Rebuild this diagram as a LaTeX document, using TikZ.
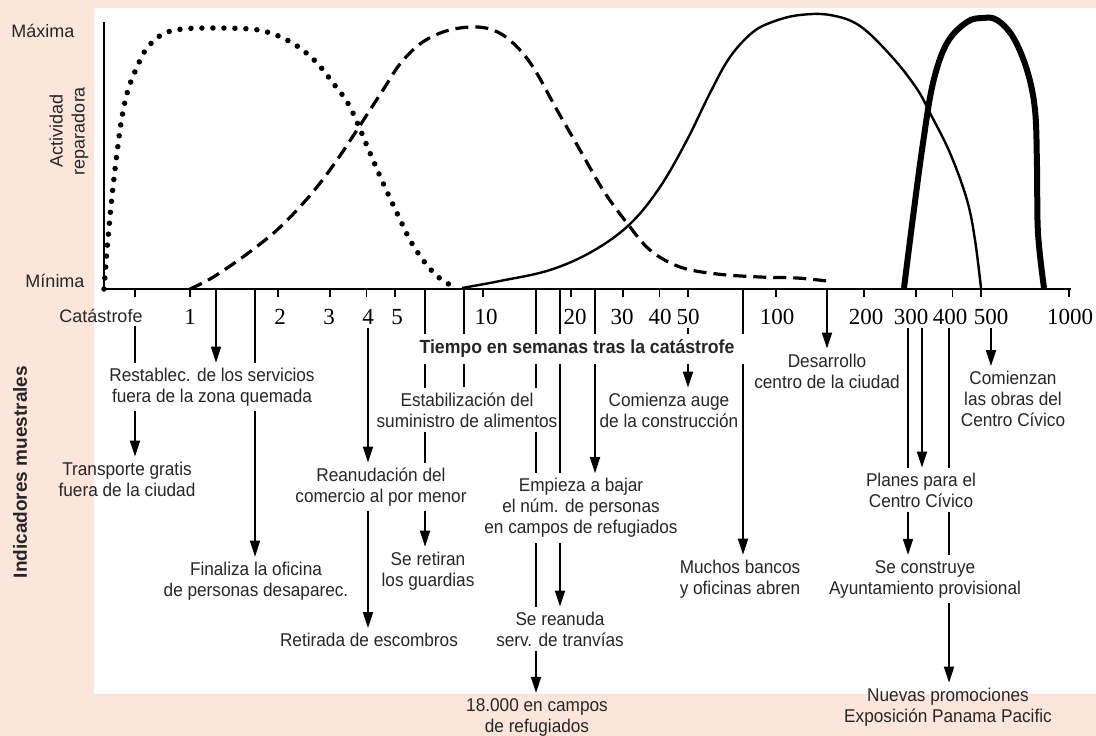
\documentclass[tikz,border=0pt]{standalone}
\usepackage{fontspec}
\setmainfont{Liberation Sans}
\newfontfamily\indfont[FakeStretch=0.93]{Liberation Sans}
\newfontfamily\numfont{Liberation Serif}
\usepackage{tikz}
\usetikzlibrary{arrows.meta}
\definecolor{fondo}{RGB}{252,229,218}
\pgfdeclarelayer{capafondo}
\pgfdeclarelayer{capalineas}
\pgfsetlayers{capafondo,capalineas,main}
\tikzset{
	>={Triangle[length=16pt,width=10pt]},
	indic/.style={font=\indfont\fontsize{18.5}{21}\selectfont,align=center,text=black!85,fill=white,inner xsep=1pt,inner ysep=5pt},
	indicp/.style={indic,fill=none},
	ejenum/.style={font=\numfont\fontsize{23}{25}\selectfont,anchor=base},
	ejetxt/.style={font=\fontsize{18}{22}\selectfont,text=black!85},
	linea/.style={line width=1.8pt}
}

\begin{document}
\begin{tikzpicture}[x=1pt,y=-1pt]
	\useasboundingbox (0,0) rectangle (1096,736);
	\begin{pgfonlayer}{capafondo}
		\fill[fondo] (0,0) rectangle (1096,736);
		\fill[white] (94,8) rectangle (1096,694);
	\end{pgfonlayer}
	\draw[line width=2pt] (104,22) -- (104,289) -- (1071,289);
	\foreach \t in {1,2,3,4,5,10,20,30,40,50,100,200,300,400,500,1000}
		\draw[line width=1.6pt] ({190+293*log10(\t)},289) -- ++(0,8);
	\draw[line width=1.6pt] (135,289) -- ++(0,8);
	\foreach \t/\p in {1/190,2/280,3/329,4/368,5/397,10/486,20/575,30/622,40/660,50/688,100/777,200/866,300/911,400/950,500/991,1000/1070}
		\node[ejenum] (n\t) at (\p,324) {\t};
	\node[ejetxt,anchor=base] (maxima) at (43,37) {Máxima};
	\node[ejetxt,anchor=base] (minima) at (55,287) {Mínima};
	\node[ejetxt,anchor=base] (catas) at (101,322) {Catástrofe};
	\node[ejetxt,rotate=90,align=center] (activ) at (69,131) {Actividad\\reparadora};
	\node[ejetxt,rotate=90,font=\bfseries\fontsize{19}{22}\selectfont] (indicad) at (20,472) {Indicadores muestrales};

	\draw[line width=5.5pt,line cap=round,dash pattern=on 0pt off 11pt] plot[smooth,tension=0.6] coordinates {(104,289) (105,276) (107,250) (110,217) (113,187) (117,153) (122,117) (128,90) (137,67) (147,48) (163,34) (183,29) (215,28) (250,29) (267,32) (283,38) (300,48) (317,63) (333,83) (350,107) (370,153) (383,183) (397,213) (410,240) (423,260) (437,276) (452,286)};
	\draw[line width=3.2pt,dash pattern=on 13pt off 7pt] plot[smooth,tension=0.6] coordinates {(190,289) (210,279) (233,264) (255,248) (277,230) (297,210) (317,187) (337,160) (357,130) (383,90) (400,64) (420,44) (443,32) (470,27) (493,30) (513,43) (533,67) (557,110) (580,150) (603,190) (627,223) (650,250) (680,267) (717,274) (760,277) (797,278) (827,281)};
	\draw[line width=2.4pt] plot[smooth,tension=0.6] coordinates {(462,288) (500,281) (550,270) (593,251) (630,224) (660,187) (687,140) (710,93) (730,57) (753,32) (775,21) (800,15) (830,15) (860,26) (893,58) (917,89) (930,113) (950,153) (967,200) (975,240) (981,288)};
	\draw[line width=6pt] plot[smooth,tension=0.6] coordinates {(904,288) (913,217) (923,143) (933,83) (947,43) (967,22) (983,18) (997,20) (1013,37) (1027,70) (1035,110) (1037,167) (1038,233) (1044,288)};

	\node[indic] (restab) at (212,387) {Restablec. de los servicios\\fuera de la zona quemada};
	\node[indicp] (transp) at (127,479) {Transporte gratis\\fuera de la ciudad};
	\node[indic] (final) at (256,581) {Finaliza la oficina\\de personas desaparec.};
	\node[indic] (reanud) at (381,487) {Reanudación del\\comercio al por menor};
	\node[indic] (retir) at (369,640) {Retirada de escombros};
	\node[indic] (guard) at (428,571) {Se retiran\\los guardias};
	\node[indic,font=\indfont\bfseries\fontsize{19}{21}\selectfont,inner xsep=14pt,inner ysep=6pt] (tiempo) at (577,349) {Tiempo en semanas tras la catástrofe};
	\node[indic,inner xsep=0pt] (estab) at (467,410) {Estabilización del\\suministro de alimentos};
	\node[indic] (auge) at (669,410) {Comienza auge\\de la construcción};
	\node[indic] (empieza) at (581,508) {Empieza a bajar\\el núm. de personas\\en campos de refugiados};
	\node[indic] (tranv) at (560,629) {Se reanuda\\serv. de tranvías};
	\node[indicp] (refug) at (537,717) {18.000 en campos\\de refugiados};
	\node[indic] (bancos) at (740,579) {Muchos bancos\\y oficinas abren};
	\node[indic] (desarr) at (827,371) {Desarrollo\\centro de la ciudad};
	\node[indic] (comienz) at (1013,399) {Comienzan\\las obras del\\Centro Cívico};
	\node[indic] (planes) at (921,490) {Planes para el\\Centro Cívico};
	\node[indic] (ayunt) at (925,579) {Se construye\\Ayuntamiento provisional};
	\node[indicp] (nuevas) at (948,707) {Nuevas promociones\\Exposición Panama Pacific};

	\coordinate (xcat) at (135,289);
	\coordinate (xrest) at (216,289);
	\coordinate (xfin) at (255,289);
	\coordinate (xguard) at (425,289);
	\coordinate (xestab) at (464,289);
	\coordinate (xrefug) at (536,289);
	\coordinate (xtranv) at (560,289);
	\coordinate (xempieza) at (595,289);
	\coordinate (xbancos) at (743,289);
	\coordinate (xdesarr) at (827,289);
	\coordinate (xayunt) at (908,289);
	\coordinate (xplanes) at (922,289);
	\coordinate (xnuevas) at (949,289);

	\begin{pgfonlayer}{capalineas}
		\path[linea,->] (catas.south -| xcat) edge (xcat |- transp.north)
			(xrest) edge (xrest |- restab.north)
			(xfin) edge (xfin |- final.north)
			(n4.south) edge (n4 |- reanud.north)
			(reanud.south -| n4) edge (n4 |- retir.north)
			(xguard) edge (xguard |- guard.north)
			(xrefug) edge (xrefug |- refug.north)
			(xtranv) edge (xtranv |- tranv.north)
			(xempieza) edge (xempieza |- empieza.north)
			(n50.south) edge (n50 |- auge.north)
			(xbancos) edge (xbancos |- bancos.north)
			(xdesarr) edge (xdesarr |- desarr.north)
			(n300.south -| xayunt) edge (xayunt |- ayunt.north)
			(n300.south -| xplanes) edge (xplanes |- planes.north)
			(n400.south -| xnuevas) edge (xnuevas |- nuevas.north)
			(n500.south) edge (n500 |- comienz.north);
		\draw[linea] (xestab) -- (xestab |- estab.north);
	\end{pgfonlayer}
\end{tikzpicture}
\end{document}
